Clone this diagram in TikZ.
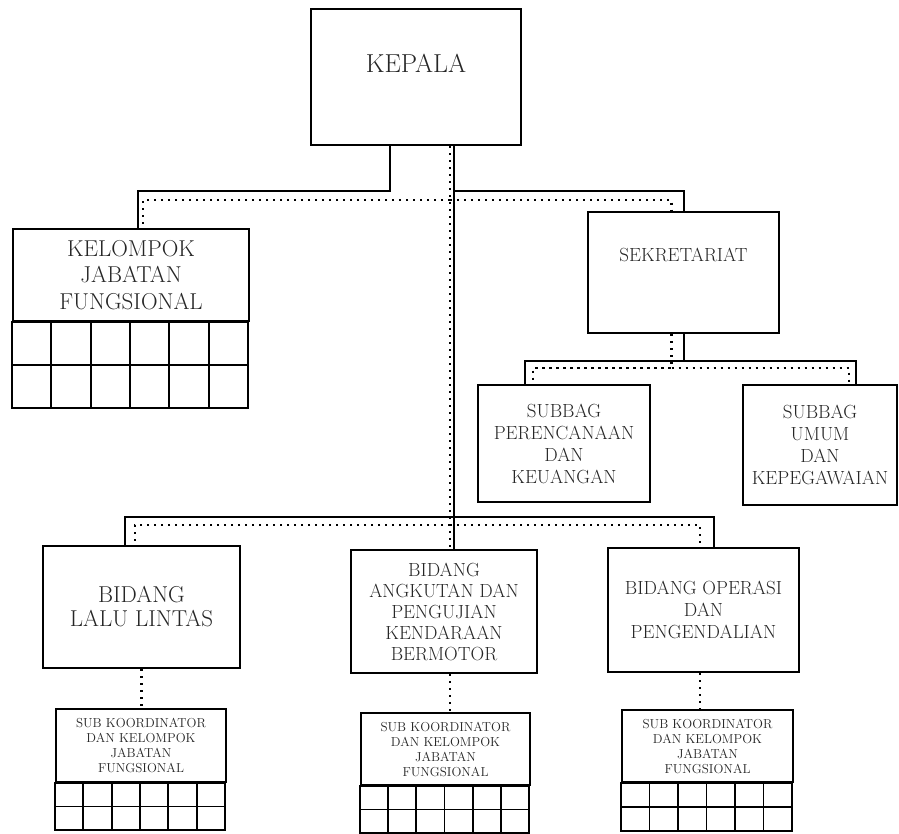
\documentclass[tikz,border=0pt]{standalone}
\usepackage{tikz}
\usetikzlibrary{positioning, calc}

\begin{document}
\begin{tikzpicture}[
  x=1pt, y=-1pt,
  unit/.style={draw, line width=2pt, align=center, inner sep=0pt, text=black!85},
  link/.style={line width=2pt},
  staff/.style={line width=2.2pt, dash pattern=on 2.2pt off 4.8pt},
  cell/.style={draw, line width=1.8pt},
  big/.style={font=\fontsize{23}{26.5}\selectfont},
  mid/.style={font=\fontsize{19}{22}\selectfont},
  tiny/.style={font=\fontsize{13}{15}\selectfont}
]
  \useasboundingbox (0,0) rectangle (899,833);

  % top
  \node[unit, minimum width=210, minimum height=136] (kepala) at (416,77) {};
  \node[text=black!85, font=\fontsize{26}{30}\selectfont] (kepalatext) at (416,63) {KEPALA};

  \node[unit, big, minimum width=236, minimum height=92] (jf) at (131,275) {
    KELOMPOK\\JABATAN\\FUNGSIONAL
  };
  \node[unit, minimum width=191, minimum height=121] (sekretariat) at (683.5,272.5) {};
  \node[text=black!85, mid] (sekretariattext) at (683.5,255) {SEKRETARIAT};

  % subbag
  \node[unit, mid, minimum width=172, minimum height=117] (perencanaan) at (564,443.5) {
    SUBBAG\\PERENCANAAN\\DAN\\KEUANGAN
  };
  \node[unit, mid, minimum width=154, minimum height=120] (umum) at (820,445) {
    SUBBAG\\UMUM\\DAN\\KEPEGAWAIAN
  };

  % bidang
  \node[unit, font=\fontsize{23}{24}\selectfont, minimum width=197, minimum height=122] (lalu) at (141.5,607) {
    BIDANG\\LALU LINTAS
  };
  \node[unit, font=\fontsize{19}{21}\selectfont, minimum width=186, minimum height=123] (angkutan) at (444,611.5) {
    BIDANG\\ANGKUTAN DAN\\PENGUJIAN\\KENDARAAN\\BERMOTOR
  };
  \node[unit, font=\fontsize{19}{22}\selectfont, minimum width=191, minimum height=124] (operasi) at (703.5,610) {
    BIDANG OPERASI\\DAN\\PENGENDALIAN
  };

  % sub koordinator
  \node[unit, tiny, minimum width=170, minimum height=73] (kjf1) at (141,745.5) {
    SUB KOORDINATOR\\DAN KELOMPOK\\JABATAN\\FUNGSIONAL
  };
  \node[unit, tiny, minimum width=169, minimum height=72] (kjf2) at (445.5,749) {
    SUB KOORDINATOR\\DAN KELOMPOK\\JABATAN\\FUNGSIONAL
  };
  \node[unit, tiny, minimum width=171, minimum height=72] (kjf3) at (707.5,746) {
    SUB KOORDINATOR\\DAN KELOMPOK\\JABATAN\\FUNGSIONAL
  };

  % cells under the groups
  \foreach \n/\w/\h in {jf/39.33/43, kjf1/28.33/23.5, kjf2/28.17/23.5, kjf3/28.5/24}
    \foreach \i in {0,...,5}
      \foreach \j in {0,1}
        \draw[cell] ($(\n.south west)+(\i*\w,\j*\h)$) rectangle ++(\w,\h);

  % solid lines
  \draw[link] ([xshift=-26pt]kepala.south) -- ++(0,45) -| ([xshift=7pt]jf.north);
  \draw[link] ([xshift=38pt]kepala.south) -- ([xshift=10pt]angkutan.north);
  \draw[link] ([xshift=38pt]kepala.south) ++(0,45) -| (sekretariat.north);
  \draw[link] (sekretariat.south) -- ++(0,27) -| ([xshift=-39pt]perencanaan.north);
  \draw[link] (sekretariat.south) ++(0,27) -| ([xshift=36pt]umum.north);
  \draw[link] ([xshift=10pt]angkutan.north) ++(0,-32) -| ([xshift=-16.5pt]lalu.north);
  \draw[link] ([xshift=10pt]angkutan.north) ++(0,-32) -| ([xshift=10.5pt]operasi.north);

  % dotted lines
  \draw[staff] ([xshift=34pt]kepala.south) -- ([xshift=6pt]angkutan.north);
  \draw[staff] ([xshift=34pt]kepala.south) ++(0,54) -| ([xshift=12pt]jf.north);
  \draw[staff] ([xshift=34pt]kepala.south) ++(0,54) -| ([xshift=-12pt]sekretariat.north);
  \draw[staff] ([xshift=-12pt]sekretariat.south) -- ++(0,34) -| ([xshift=-31pt]perencanaan.north);
  \draw[staff] ([xshift=-12pt]sekretariat.south) ++(0,34) -| ([xshift=29pt]umum.north);
  \draw[staff] ([xshift=6pt]angkutan.north) ++(0,-24) -| ([xshift=-6.5pt]lalu.north);
  \draw[staff] ([xshift=6pt]angkutan.north) ++(0,-24) -| ([xshift=-3.5pt]operasi.north);
  \draw[staff] (lalu.south) -- (lalu.south |- kjf1.north);
  \draw[staff] ([xshift=6pt]angkutan.south) -- ([xshift=6pt]angkutan.south |- kjf2.north);
  \draw[staff] ([xshift=-3.5pt]operasi.south) -- ([xshift=-3.5pt]operasi.south |- kjf3.north);
\end{tikzpicture}
\end{document}
